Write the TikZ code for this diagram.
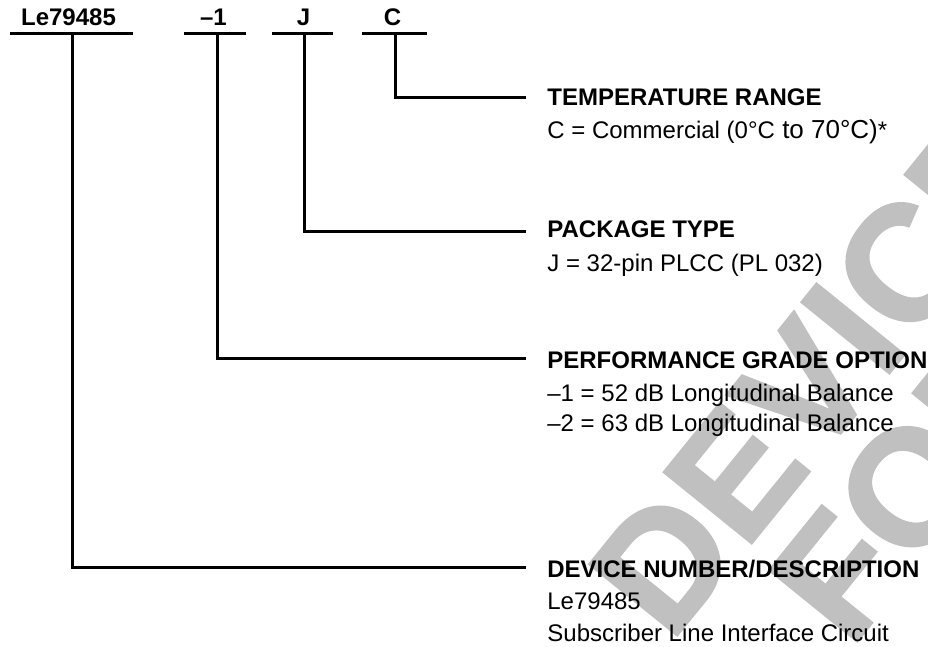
\documentclass[tikz,border=0pt]{standalone}
\usepackage{fontspec}
\setmainfont{Liberation Sans}
\newfontfamily\wmfont[FakeBold=1.5]{Liberation Sans Bold}
\definecolor{wmgray}{RGB}{192,192,192}
\begin{document}
\begin{tikzpicture}[x=0.5pt,y=-0.5pt,
  conn/.style={line width=1.5pt, line join=miter},
  lbl/.style={font=\fontsize{12}{14}\selectfont\bfseries, inner sep=0pt, anchor=base},
  head/.style={font=\fontsize{12}{14}\selectfont\bfseries, inner sep=0pt, anchor=base west},
  desc/.style={font=\fontsize{12}{14}\selectfont, inner sep=0pt, anchor=base west},
  wmark/.style={font=\wmfont\fontsize{82}{86}\selectfont, text=wmgray, inner sep=0pt, rotate=51, anchor=base west}]
\useasboundingbox (0,0) rectangle (928,647);
\begin{scope}
  \clip (0,0) rectangle (928,647);
  \node[wmark] (wm1) at (670,644) {DEVICE};
  \node[wmark] (wm2) at (850,650) {FOR};
\end{scope}
% part number fields
\node[lbl] (pn) at (68.5,26) {Le79485};
\node[lbl] (pg) at (213.5,26) {–1};
\node[lbl] (pk) at (303.5,26) {J};
\node[lbl] (tr) at (392.5,26) {C};
% underlines
\coordinate (pn-l) at (10,34);  \coordinate (pn-r) at (133,34);
\coordinate (pg-l) at (184,34); \coordinate (pg-r) at (246,34);
\coordinate (pk-l) at (272,34); \coordinate (pk-r) at (333,34);
\coordinate (tr-l) at (362,34); \coordinate (tr-r) at (427,34);
\draw[conn] (pn-l) -- (pn-r);
\draw[conn] (pg-l) -- (pg-r);
\draw[conn] (pk-l) -- (pk-r);
\draw[conn] (tr-l) -- (tr-r);
% connector start and end points
\coordinate (pn-t) at (72,34);  \coordinate (dev-e) at (526,567);
\coordinate (pg-t) at (217,34); \coordinate (pg-e) at (526,359);
\coordinate (pk-t) at (304,34); \coordinate (pk-e) at (526,232);
\coordinate (tr-t) at (395,34); \coordinate (tr-e) at (526,98);
\draw[conn] (pn-t) |- (dev-e);
\draw[conn] (pg-t) |- (pg-e);
\draw[conn] (pk-t) |- (pk-e);
\draw[conn] (tr-t) |- (tr-e);
% descriptions
\node[head] (htemp) at (547,106) {TEMPERATURE RANGE};
\node[desc] (dtemp) at (547,139) {C = Commercial (0°C{\fontsize{13}{14}\selectfont\ to 70°C)}*};
\node[head] (hpkg) at (547,238) {PACKAGE TYPE};
\node[desc] (dpkg) at (547,271) {J = 32-pin PLCC (PL 032)};
\node[head] (hperf) at (547,369) {PERFORMANCE GRADE OPTION};
\node[desc] (dperf1) at (547,401) {–1 = 52 dB Longitudinal Balance};
\node[desc] (dperf2) at (547,431) {–2 = 63 dB Longitudinal Balance};
\node[head] (hdev) at (547,577) {DEVICE NUMBER/DESCRIPTION};
\node[desc] (ddev1) at (547,609) {Le79485};
\node[desc] (ddev2) at (547,641) {Subscriber Line Interface Circuit};
\end{tikzpicture}
\end{document}
